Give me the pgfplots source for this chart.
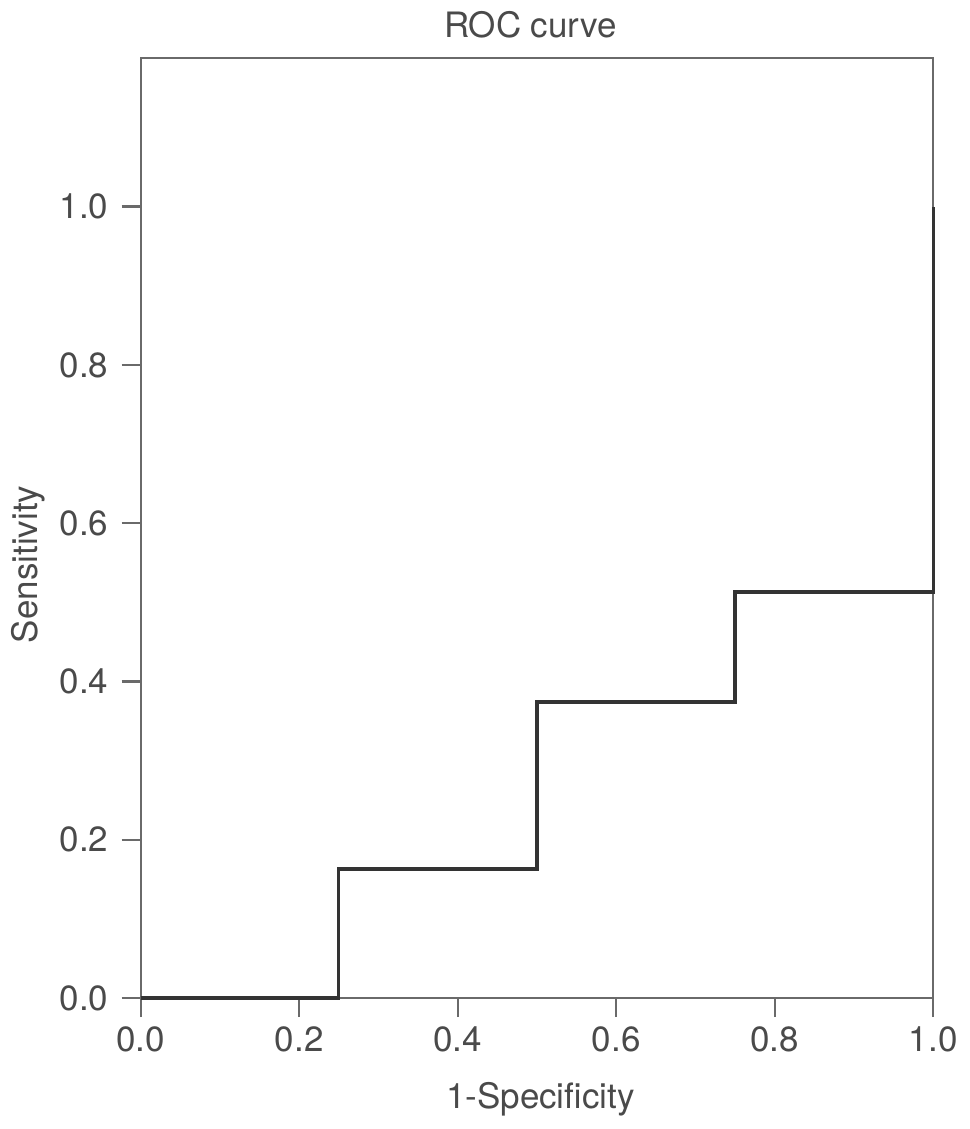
\documentclass[border=0pt]{standalone}
\usepackage{fontspec}
\setmainfont{TeX Gyre Heros}
\usepackage{pgfplots}
\pgfplotsset{compat=1.18}
\definecolor{txt}{HTML}{4A4A4A}
\definecolor{axc}{HTML}{6A6A6A}
\definecolor{crv}{HTML}{333333}
\begin{document}
\fontsize{17.5}{21}\selectfont
\begin{tikzpicture}
\begin{axis}[
  at={(0,0)}, anchor=south west,
  scale only axis,
  width=396.5pt, height=470.5pt,
  xmin=0, xmax=1, ymin=0, ymax=1.188,
  xtick={0,0.2,0.4,0.6,0.8,1},
  xticklabels={0.0,0.2,0.4,0.6,0.8,1.0},
  ytick={0,0.2,0.4,0.6,0.8,1},
  yticklabels={0.0,0.2,0.4,0.6,0.8,1.0},
  tick align=outside,
  major tick length=9.5pt,
  xtick pos=bottom, ytick pos=left,
  axis line style={axc, line width=1.1pt},
  every tick/.style={axc, line width=1.1pt},
  tick label style={font=\fontsize{17.5}{21}\selectfont, text=txt},
  xticklabel style={anchor=base, yshift=-17pt},
  yticklabel style={anchor=east, inner sep=0pt, xshift=-6.5pt},
  clip=false,
]
\addplot[crv, line width=1.6pt, line join=miter] coordinates {
 (0,0) (0.25,0) (0.25,0.163) (0.5,0.163) (0.5,0.374) (0.75,0.374) (0.75,0.513) (1,0.513) (1,1.0)
};
\end{axis}
\node[anchor=base, text=txt] at (195pt,480.5pt) {ROC curve};
\node[anchor=base, text=txt] at (200pt,-55pt) {1-Specificity};
\node[anchor=base, rotate=90, text=txt] at (-51.5pt,217pt) {Sensitivity};
\path (-70pt,-65.5pt) rectangle (414.5pt,499pt);
\end{tikzpicture}
\end{document}
